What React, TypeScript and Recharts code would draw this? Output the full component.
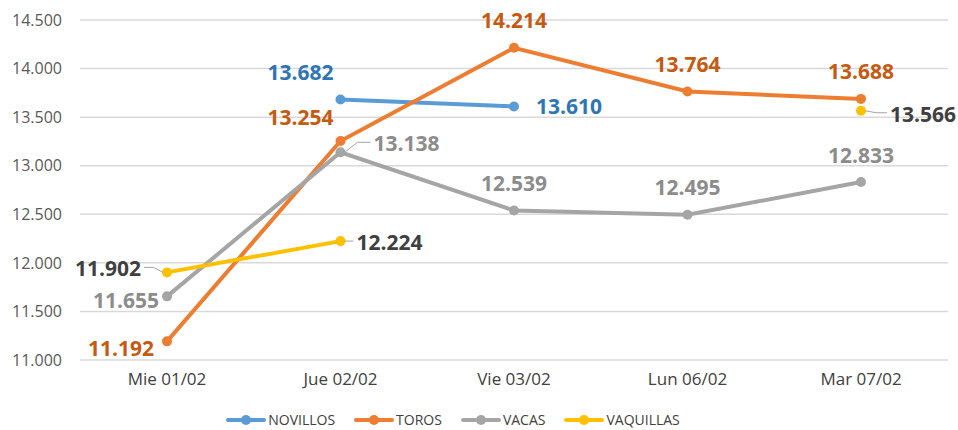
import React from 'react'
import { LineChart, Line, XAxis, YAxis, CartesianGrid, LabelList } from 'recharts'

const categories = ['Mie 01/02', 'Jue 02/02', 'Vie 03/02', 'Lun 06/02', 'Mar 07/02']
const novillos = [null, 13682, 13610, null, null]
const toros = [11192, 13254, 14214, 13764, 13688]
const vacas = [11655, 13138, 12539, 12495, 12833]
const vaquillas = [11902, 12224, null, null, 13566]
const yTicks = [11000, 11500, 12000, 12500, 13000, 13500, 14000, 14500]

const data = categories.map((name, i) => ({
  name,
  NOVILLOS: novillos[i],
  TOROS: toros[i],
  VACAS: vacas[i],
  VAQUILLAS: vaquillas[i],
}))

const FONT = '"Open Sans", "Liberation Sans", sans-serif'

type Place = { dx: number; dy: number; anchor: 'start' | 'middle' | 'end'; leader?: boolean } | null

// where each data label sits relative to its point (Excel-style manual placement)
const placements: Record<string, Place[]> = {
  NOVILLOS: [null, { dx: -40, dy: -27, anchor: 'middle' }, { dx: 22, dy: 0, anchor: 'start' }, null, null],
  TOROS: [
    { dx: -13, dy: 7, anchor: 'end' },
    { dx: -40, dy: -24, anchor: 'middle' },
    { dx: 0, dy: -28, anchor: 'middle' },
    { dx: 0, dy: -27, anchor: 'middle' },
    { dx: 0, dy: -28, anchor: 'middle' },
  ],
  VACAS: [
    { dx: -8, dy: 4, anchor: 'end' },
    { dx: 33, dy: -9, anchor: 'start', leader: true },
    { dx: 0, dy: -27, anchor: 'middle' },
    { dx: 0, dy: -28, anchor: 'middle' },
    { dx: 0, dy: -27, anchor: 'middle' },
  ],
  VAQUILLAS: [
    { dx: -26, dy: -4, anchor: 'end', leader: true },
    { dx: 16, dy: 1, anchor: 'start', leader: true },
    null,
    null,
    { dx: 29, dy: 3, anchor: 'start', leader: true },
  ],
}

const series = [
  { key: 'NOVILLOS', color: '#5B9BD5', labelColor: '#2E75B6' },
  { key: 'TOROS', color: '#ED7D31', labelColor: '#C55A11' },
  { key: 'VACAS', color: '#A5A5A5', labelColor: '#8C8C8C' },
  { key: 'VAQUILLAS', color: '#FFC000', labelColor: '#404040' },
]

const fmt = (v: number) => v.toLocaleString('de-DE')

function makeLabel(key: string, color: string) {
  return (props: any) => {
    const { x, y, value, index } = props
    const p = placements[key][index]
    if (value == null || !p) return null
    const tx = x + p.dx
    const ty = y + p.dy
    let leader = null
    if (p.leader) {
      const lx = p.anchor === 'start' ? tx - 3 : tx + 3
      const sx = p.anchor === 'start' ? x + 4 : x - 4
      leader = (
        <polyline
          points={`${sx},${y} ${(sx + lx) / 2},${ty - 1} ${lx},${ty - 1}`}
          fill="none"
          stroke="#A5A5A5"
          strokeWidth={1}
        />
      )
    }
    return (
      <g>
        {leader}
        <text
          x={tx}
          y={ty}
          textAnchor={p.anchor}
          dominantBaseline="central"
          fill={color}
          fontSize={21}
          fontWeight={700}
          fontFamily={FONT}
        >
          {fmt(value)}
        </text>
      </g>
    )
  }
}

function ChartLegend() {
  return (
    <div
      style={{
        position: 'absolute',
        left: -26,
        width: 958,
        top: 410,
        display: 'flex',
        justifyContent: 'center',
        gap: 19,
        fontFamily: FONT,
        fontSize: 14,
        color: '#404040',
      }}
    >
      {series.map((s) => (
        <div key={s.key} style={{ display: 'flex', alignItems: 'center', gap: 2 }}>
          <svg width={40} height={12}>
            <line x1={2} y1={6} x2={38} y2={6} stroke={s.color} strokeWidth={4} strokeLinecap="round" />
            <circle cx={20} cy={6} r={5} fill={s.color} />
          </svg>
          <span>{s.key}</span>
        </div>
      ))}
    </div>
  )
}

export default function App() {
  return (
    <div style={{ position: 'absolute', left: 0, top: 0, width: 958, height: 430, background: '#fff', overflow: 'hidden' }}>
      <LineChart width={958} height={430} data={data} margin={{ top: 20, right: 10, bottom: 40, left: 0 }}>
        <CartesianGrid vertical={false} stroke="#D9D9D9" strokeWidth={1.5} />
        <XAxis
          dataKey="name"
          height={30}
          padding={{ left: 87, right: 87 }}
          axisLine={false}
          tickLine={false}
          tickSize={0}
          tickMargin={13}
          tick={{ fill: '#404040', fontSize: 17, fontFamily: FONT }}
        />
        <YAxis
          domain={[11000, 14500]}
          ticks={yTicks}
          width={80}
          axisLine={false}
          tickLine={false}
          tickSize={0}
          tickMargin={18}
          tickFormatter={fmt}
          tick={{ fill: '#595959', fontSize: 16, fontFamily: FONT }}
        />
        {series.map((s) => (
          <Line
            key={s.key}
            dataKey={s.key}
            stroke={s.color}
            strokeWidth={4}
            dot={{ r: 5, fill: s.color, stroke: s.color, strokeWidth: 0 }}
            activeDot={false}
            isAnimationActive={false}
          >
            <LabelList dataKey={s.key} content={makeLabel(s.key, s.labelColor)} />
          </Line>
        ))}
      </LineChart>
      <ChartLegend />
    </div>
  )
}
